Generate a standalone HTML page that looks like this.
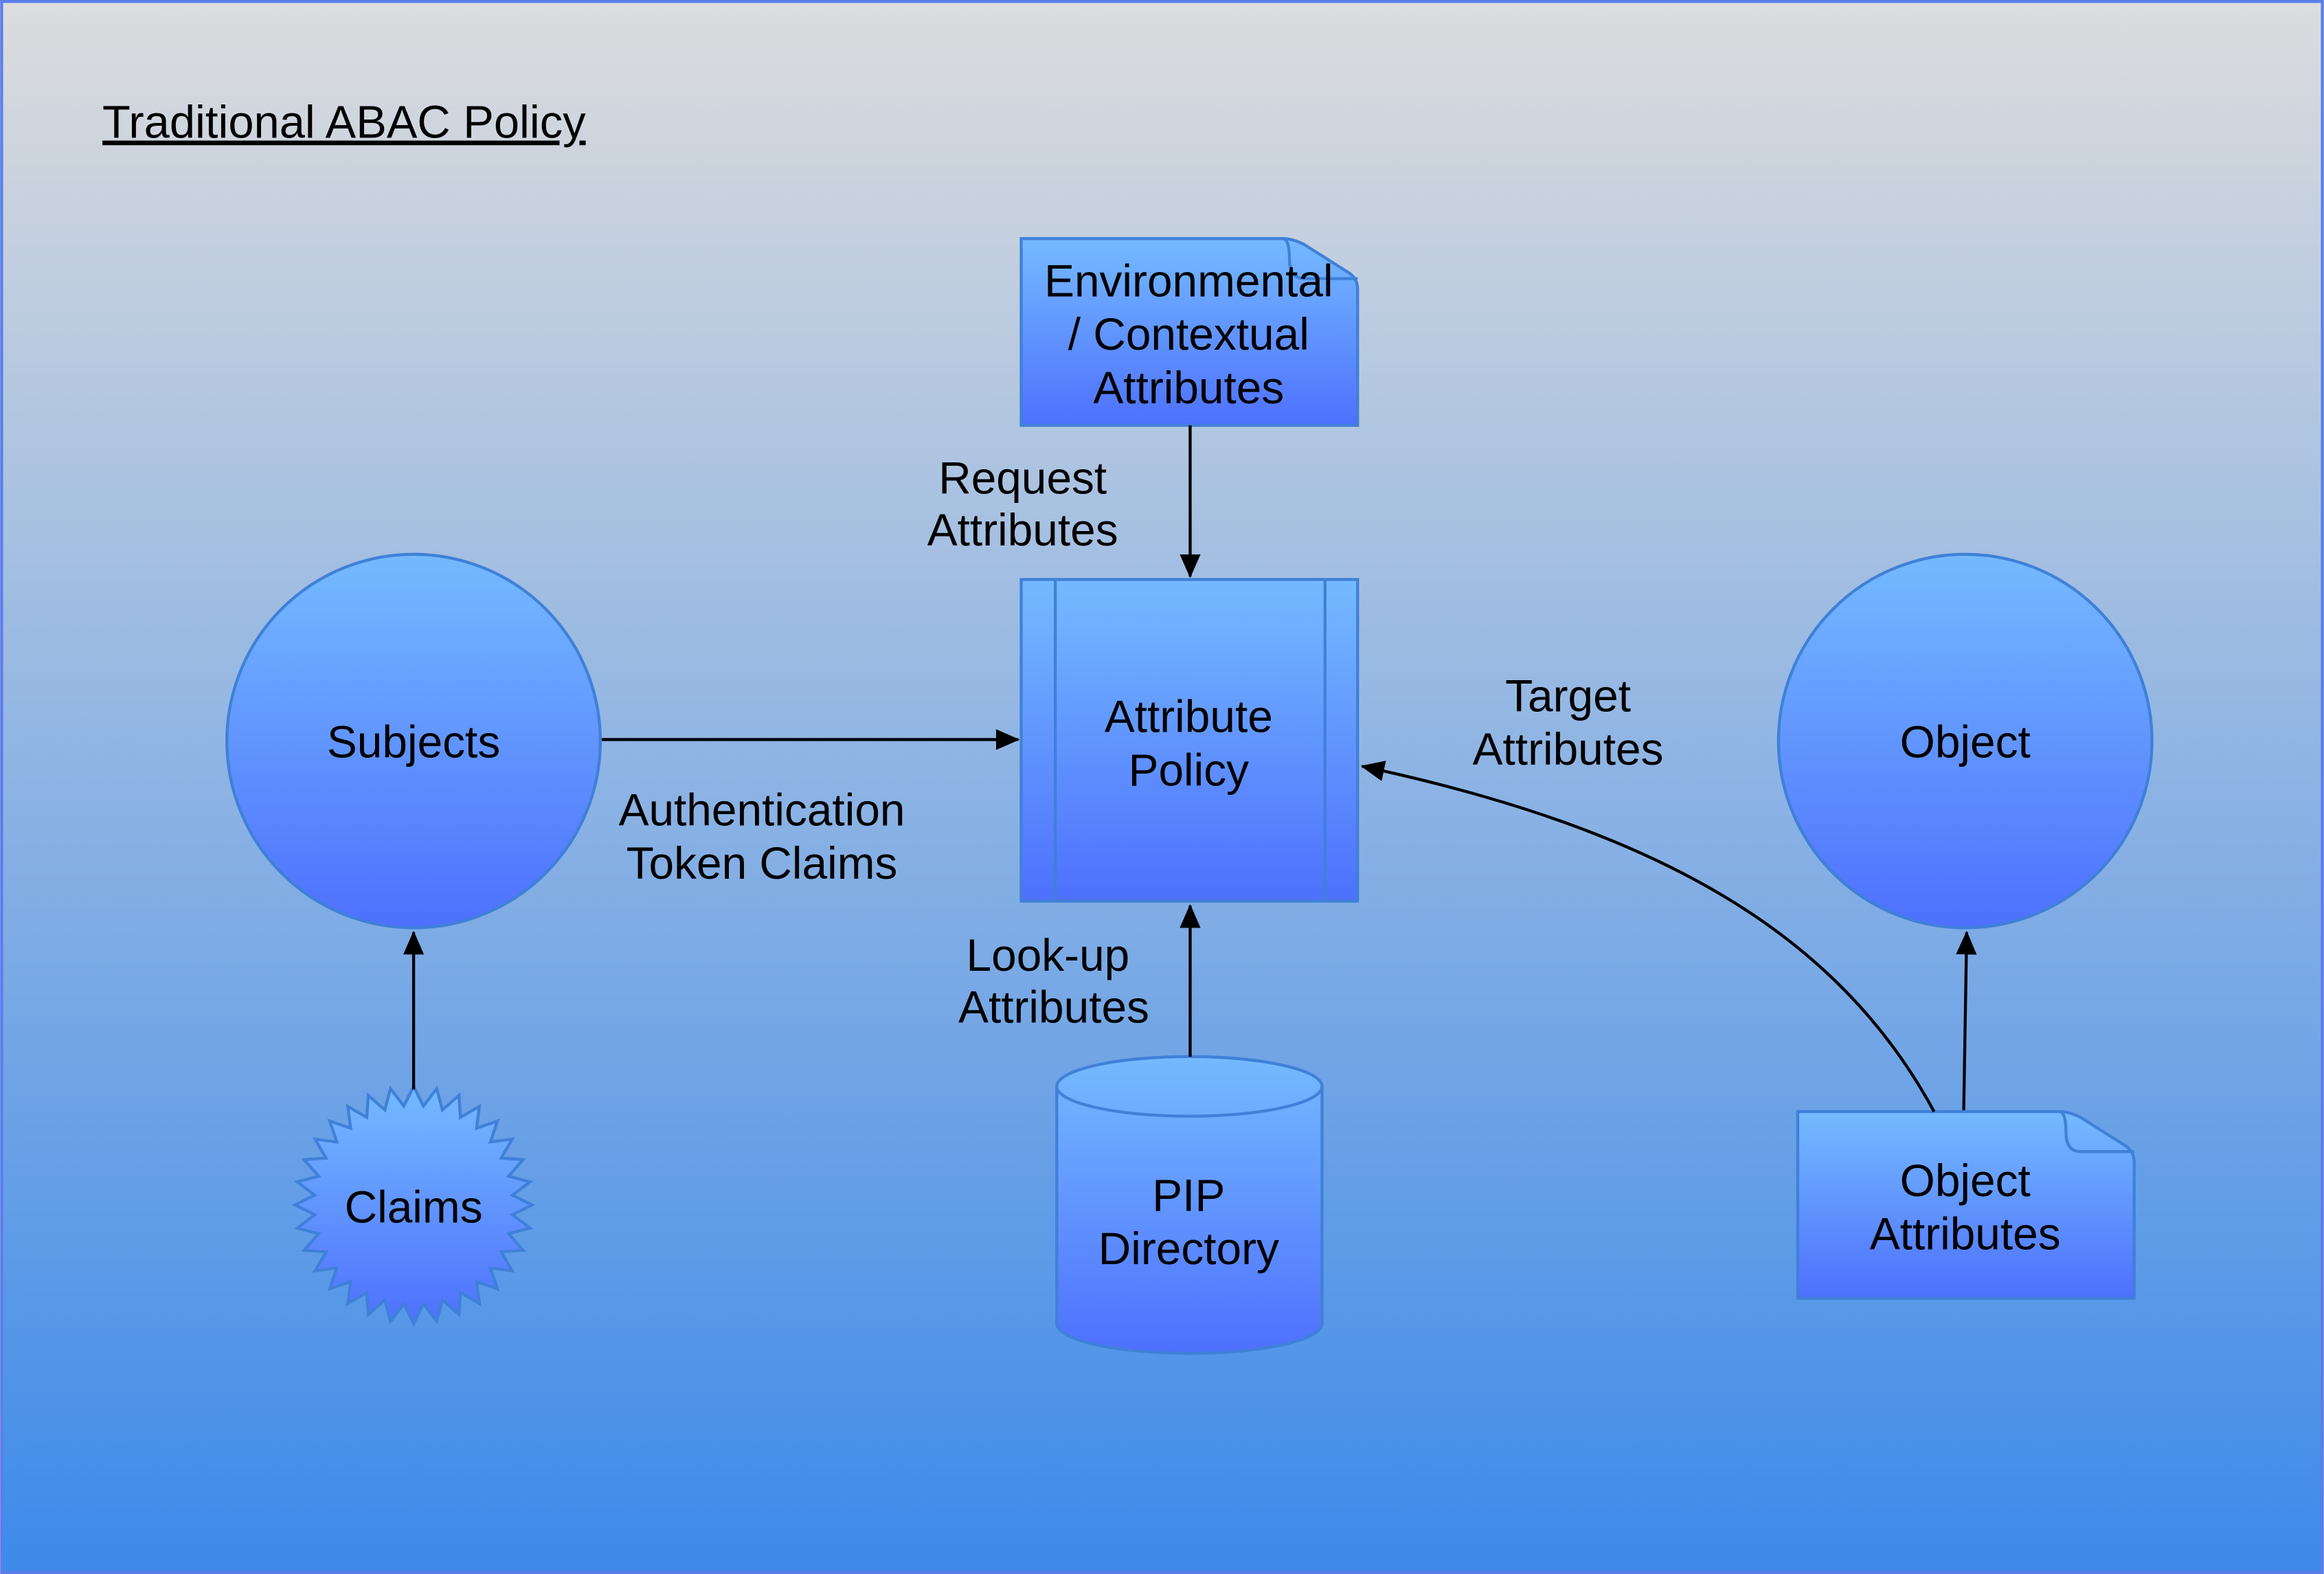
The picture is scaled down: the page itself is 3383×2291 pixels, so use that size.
<!DOCTYPE html>
<html><head><meta charset="utf-8"><style>
html,body{margin:0;padding:0;width:3383px;height:2291px;overflow:hidden}
svg{display:block}
text{font-family:"Liberation Sans",Arial,sans-serif;fill:#000}
</style></head><body>
<svg width="3383" height="2291" viewBox="0 0 1568 1062" xmlns="http://www.w3.org/2000/svg">
<defs>
<linearGradient id="bg" x1="0" y1="0" x2="0" y2="1"><stop offset="0" stop-color="#dcdcdd"/><stop offset="1" stop-color="#3d8aea"/></linearGradient>
<linearGradient id="sh" x1="0" y1="0" x2="0" y2="1"><stop offset="0" stop-color="#74baff"/><stop offset="1" stop-color="#4e70fe"/></linearGradient>
<marker id="ar" markerWidth="16" markerHeight="14" refX="15" refY="7" orient="auto" markerUnits="userSpaceOnUse"><path d="M0,0 L16,7 L0,14 Z" fill="#000"/></marker>
</defs>
<rect x="1" y="1" width="1566" height="1060" fill="url(#bg)" stroke="#5a7de8" stroke-width="2"/>
<text x="69" y="93" font-size="31" text-decoration="underline">Traditional ABAC Policy</text>
<g fill="url(#sh)" stroke="#4080d8" stroke-width="2">
<path d="M689,161 H866 Q872,161 880,165 L910,184 Q916,188 916,195 V287 H689 Z"/>
<path d="M866,161 Q870,162 870,175 Q870,188 880,188 H916" fill="none"/>
<rect x="689" y="391" width="227" height="217"/>
<line x1="712" y1="391" x2="712" y2="608"/><line x1="894" y1="391" x2="894" y2="608"/>
<circle cx="279" cy="500" r="126"/>
<circle cx="1326" cy="500" r="126"/>
<path d="M713,733 V893 A89,20 0 0 0 892,893 V733 A89,20 0 0 0 713,733 Z"/>
<path d="M713,733 A89,20 0 0 0 892,733" fill="none"/>
<path d="M1213,750 H1390 Q1396,750 1404,754 L1434,773 Q1440,777 1440,784 V876 H1213 Z"/>
<path d="M1390,750 Q1394,751 1394,764 Q1394,777 1404,777 H1440" fill="none"/>
<polygon id="star" points=""/>
</g>
<script>
(function(){var p=[],cx=279,cy=813,n=32;for(var i=0;i<2*n;i++){var r=i%2?67:80,a=-Math.PI/2+i*Math.PI/n;p.push((cx+r*Math.cos(a)).toFixed(1)+","+(cy+r*Math.sin(a)).toFixed(1));}document.getElementById("star").setAttribute("points",p.join(" "));})();
</script>
<g stroke="#000" stroke-width="2" fill="none" marker-end="url(#ar)">
<line x1="803" y1="287" x2="803" y2="389"/>
<line x1="406" y1="499" x2="687" y2="499"/>
<line x1="803" y1="713" x2="803" y2="611"/>
<line x1="279" y1="735" x2="279" y2="629"/>
<line x1="1325" y1="749" x2="1327" y2="629"/>
<path d="M1305,750 C1240,630 1120,560 919,517"/>
</g>
<g font-size="30.5" text-anchor="middle">
<text x="802" y="200">Environmental</text><text x="802" y="236">/ Contextual</text><text x="802" y="272">Attributes</text>
<text x="802" y="494">Attribute</text><text x="802" y="530">Policy</text>
<text x="279" y="511">Subjects</text>
<text x="1326" y="511">Object</text>
<text x="279" y="825">Claims</text>
<text x="802" y="817">PIP</text><text x="802" y="853">Directory</text>
<text x="1326" y="807">Object</text><text x="1326" y="843">Attributes</text>
<text x="690" y="333">Request</text><text x="690" y="368">Attributes</text>
<text x="514" y="557">Authentication</text><text x="514" y="593">Token Claims</text>
<text x="707" y="655">Look-up</text><text x="711" y="690">Attributes</text>
<text x="1058" y="480">Target</text><text x="1058" y="516">Attributes</text>
</g>
</svg>
</body></html>
